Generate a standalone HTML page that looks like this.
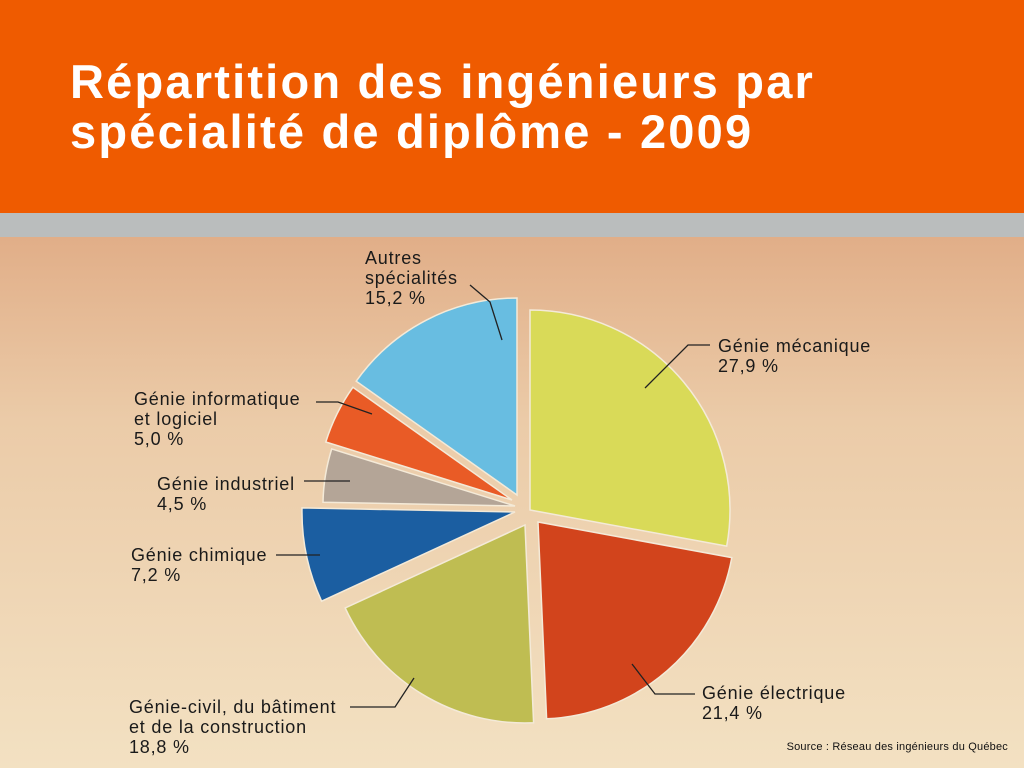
<!DOCTYPE html>
<html><head><meta charset="utf-8"><style>
html,body{margin:0;padding:0}
body{width:1024px;height:768px;position:relative;overflow:hidden;font-family:"Liberation Sans",Arial,sans-serif;background:linear-gradient(#e1ae88 237px,#ebcba8 420px,#f3e1c2 768px)}
#hd{position:absolute;left:0;top:0;width:1024px;height:213px;background:#ef5b00}
#band{position:absolute;left:0;top:213px;width:1024px;height:24px;background:#babdbd}
h1{position:absolute;left:70px;top:57px;margin:0;color:#fff;font-size:47px;line-height:50px;font-weight:bold;letter-spacing:2.2px;white-space:nowrap}
svg{position:absolute;left:0;top:0}
.l{position:absolute;font-size:18px;line-height:20px;color:#1a1a1a;letter-spacing:0.8px}
.src{position:absolute;right:16px;top:741px;font-size:11px;color:#111;letter-spacing:0.2px}
</style></head><body>
<div id="hd"></div><div id="band"></div>
<h1>Répartition des ingénieurs par<br>spécialité de diplôme - 2009</h1>
<svg width="1024" height="768">
<g stroke="#f4ead8" stroke-width="1.5">
<path d="M530,510 L530,310 A200,200 0 0 1 726.7,546.1 Z" fill="#d9da58"/>
<path d="M538,522 L731.8,557.6 A197,197 0 0 1 546.6,718.8 Z" fill="#d2441c"/>
<path d="M525,525 L533.6,722.8 A198,198 0 0 1 345.2,608 Z" fill="#bfbd52"/>
<path d="M515,512 L321.6,601.2 A213,213 0 0 1 302,507.9 Z" fill="#1b5ea1"/>
<path d="M515,506 L323,502.3 A192,192 0 0 1 331.7,448.9 Z" fill="#b4a597"/>
<path d="M512,500 L325.8,442 A195,195 0 0 1 352.9,387.3 Z" fill="#e95b26"/>
<path d="M517,495 L356.2,381.2 A197,197 0 0 1 517,298 Z" fill="#68bde1"/>
</g>
<g stroke="#222" stroke-width="1.3" fill="none">
<polyline points="470,285 490,302 502,340"/>
<polyline points="710,345 688,345 645,388"/>
<polyline points="316,402 338,402 372,414"/>
<polyline points="304,481 350,481"/>
<polyline points="276,555 320,555"/>
<polyline points="350,707 395,707 414,678"/>
<polyline points="695,694 655,694 632,664"/>
</g>
</svg>
<div class="l" style="left:365px;top:248px">Autres<br>spécialités<br>15,2 %</div>
<div class="l" style="left:718px;top:336px">Génie mécanique<br>27,9 %</div>
<div class="l" style="left:134px;top:389px">Génie informatique<br>et logiciel<br>5,0 %</div>
<div class="l" style="left:157px;top:474px">Génie industriel<br>4,5 %</div>
<div class="l" style="left:131px;top:545px">Génie chimique<br>7,2 %</div>
<div class="l" style="left:129px;top:697px">Génie-civil, du bâtiment<br>et de la construction<br>18,8 %</div>
<div class="l" style="left:702px;top:683px">Génie électrique<br>21,4 %</div>
<div class="src">Source : Réseau des ingénieurs du Québec</div>
</body></html>
